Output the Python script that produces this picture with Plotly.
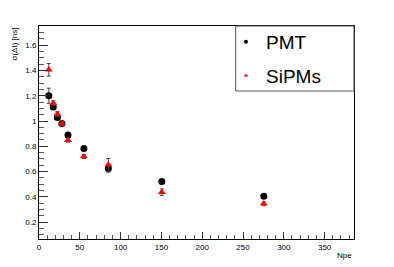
import plotly.graph_objects as go

npe = [12, 17.5, 22.5, 28, 35.5, 55, 85, 150.5, 275.5]
pmt = [1.20, 1.11, 1.027, 0.98, 0.89, 0.782, 0.625, 0.521, 0.405]
pmt_err = [0.06, 0.02, 0.015, 0.01, 0.015, 0.01, 0.03, 0.01, 0.01]
sipm = [1.405, 1.14, 1.054, 0.98, 0.848, 0.719, 0.653, 0.437, 0.345]
sipm_err = [0.05, 0.02, 0.02, 0.015, 0.015, 0.015, 0.05, 0.025, 0.015]

FONT = "Liberation Sans, Arial, sans-serif"
W, H = 394, 267
OFF = 8  # default body margin of the html page
ml, mr, mt, mb = 39 - OFF, 40 + OFF, 26 - OFF, 28 + OFF

pw = W - ml - mr
ph = H - mt - mb
def px_x(x):  # reference pixel -> paper
    return (x - OFF - ml) / pw
def px_y(y):
    return (H - mb - (y - OFF)) / ph

fig = go.Figure()
fig.add_trace(go.Scatter(
    x=npe, y=pmt, mode="markers", showlegend=False,
    marker=dict(symbol="circle", size=7, color="black"),
    error_y=dict(type="data", array=pmt_err, color="#444", thickness=1, width=2),
))
fig.add_trace(go.Scatter(
    x=npe, y=sipm, mode="markers", showlegend=False,
    marker=dict(symbol="triangle-up", size=7, color="red"),
    error_y=dict(type="data", array=sipm_err, color="#444", thickness=1, width=2),
))
fig.add_trace(go.Scatter(x=[None], y=[None], mode="markers", name="PMT",
                         legendgroup="a",
                         marker=dict(symbol="circle", size=4, color="black")))
fig.add_trace(go.Scatter(x=[None], y=[None], mode="markers", name="SiPMs",
                         legendgroup="b",
                         marker=dict(symbol="triangle-up", size=4, color="red")))

fig.add_shape(type="rect", xref="paper", yref="paper",
              x0=px_x(235.7), x1=1.0, y0=px_y(91), y1=1.0,
              line=dict(color="#555", width=1), fillcolor="white", layer="above")

fig.add_annotation(text="σ(Δt) [ns]", textangle=-90, xref="paper", yref="paper",
                   x=px_x(14), y=1.0, xanchor="center", yanchor="top",
                   showarrow=False, font=dict(family=FONT, size=8, color="black"))
fig.add_annotation(text="Npe", xref="paper", yref="paper",
                   x=1.0, y=px_y(255), xanchor="right", yanchor="middle",
                   showarrow=False, font=dict(family=FONT, size=8, color="black"))

fig.update_layout(
    width=W, height=H,
    margin=dict(l=ml, r=mr, t=mt, b=mb),
    paper_bgcolor="white", plot_bgcolor="white",
    font=dict(family=FONT, size=8, color="black"),
    legend=dict(x=px_x(226), y=px_y(23), xanchor="left", yanchor="top",
                bgcolor="rgba(0,0,0,0)", borderwidth=0,
                font=dict(family=FONT, size=19, color="black"),
                tracegroupgap=6, itemwidth=30),
    xaxis=dict(range=[0, 386], showgrid=False, zeroline=False, automargin=False,
               showline=True, linecolor="black", linewidth=1, mirror=True,
               ticks="inside", ticklen=7, tickcolor="#333", dtick=50, tick0=0,
               minor=dict(ticks="inside", ticklen=4, dtick=10, tickcolor="#555"),
               tickfont=dict(size=8)),
    yaxis=dict(range=[0.066, 1.752], showgrid=False, zeroline=False, automargin=False,
               showline=True, linecolor="black", linewidth=1, mirror=True,
               ticks="inside", ticklen=9, tickcolor="#333", dtick=0.2, tick0=0,
               minor=dict(ticks="inside", ticklen=5, dtick=0.05, tickcolor="#555"),
               tickfont=dict(size=8)),
)

fig.write_html("out.html")
